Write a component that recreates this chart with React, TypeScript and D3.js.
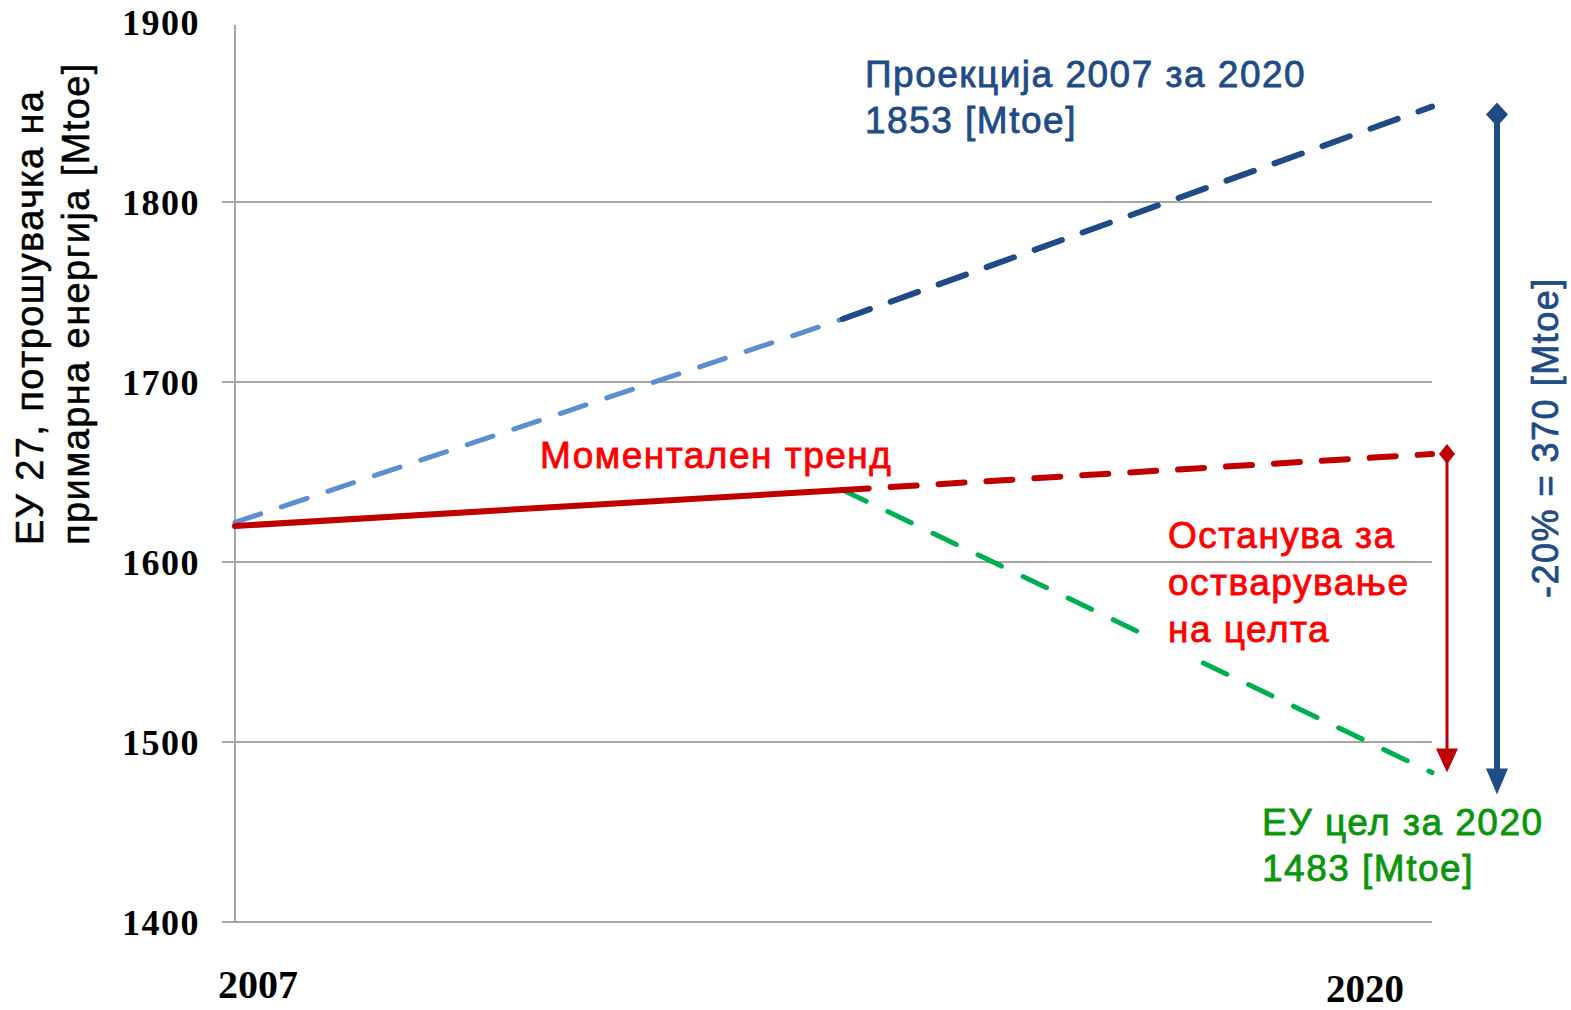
import React from 'react';
import * as d3 from 'd3';

// chart data
const yTicks = [1400, 1500, 1600, 1700, 1800, 1900];
const yearLabels = [2007, 2020];
const midYear = 2013.6;

const trendSolid: [number, number][] = [[2007, 1620], [midYear, 1640]];
const trendDashed: [number, number][] = [[midYear, 1640], [2020, 1660]];
const projectionLight: [number, number][] = [[2007, 1622], [midYear, 1735]];
const projectionDark: [number, number][] = [[midYear, 1735], [2020, 1853]];
const targetLine: [number, number][] = [[midYear, 1640], [2020, 1483]];

const projection2020 = 1853;
const target2020 = 1483;
const trend2020 = 1660;

const yTitle = ['ЕУ 27, потрошувачка на', 'примарна енергија [Mtoe]'];
const projLabel = ['Проекција 2007 за 2020', '1853 [Mtoe]'];
const trendLabel = 'Моментален тренд';
const remainLabel = ['Останува за', 'остварување', 'на целта'];
const targetLabel = ['ЕУ цел за 2020', '1483 [Mtoe]'];
const diffLabel = '-20% = 370 [Mtoe]';

const RED = '#c00000';
const RED_TEXT = '#ff0000';
const LIGHT_BLUE = '#5b8fd2';
const DARK_BLUE = '#1f4b86';
const GREEN = '#00b050';
const GREEN_TEXT = '#0a960a';
const GRID = '#a6a6a6';

const sans = '"Liberation Sans", Arial, sans-serif';
const serif = '"Liberation Serif", "Times New Roman", serif';

const App = () => {
  const width = 1571;
  const height = 1010;

  // Create scales
  const x = d3.scaleLinear().domain([2007, 2020]).range([235, 1432]);
  const y = d3.scaleLinear().domain([1400, 1900]).range([922, 22]);

  const line = d3
    .line<[number, number]>()
    .x((d) => x(d[0]))
    .y((d) => y(d[1]));

  const redX = x(2020) + 15;
  const blueX = x(2020) + 65;

  return (
    <svg
      width={width}
      height={height}
      style={{ position: 'absolute', left: 0, top: 0, background: '#fff' }}
    >
      {/* gridlines */}
      {yTicks
        .filter((t) => t < 1900)
        .map((t) => (
          <line key={t} x1={x(2007) - 13} x2={x(2020)} y1={y(t)} y2={y(t)} stroke={GRID} strokeWidth={2} />
        ))}
      <line x1={x(2007)} x2={x(2007)} y1={y(1900) + 3} y2={y(1400)} stroke={GRID} strokeWidth={2} />

      {/* y tick labels */}
      {yTicks.map((t) => (
        <text
          key={t}
          x={200}
          y={y(t)}
          dy="0.35em"
          textAnchor="end"
          fontFamily={serif}
          fontWeight="bold"
          fontSize={36}
          letterSpacing={1.5}
          fill="#000"
        >
          {t}
        </text>
      ))}

      {/* x labels */}
      <text x={x(yearLabels[0]) - 17} y={998} fontFamily={serif} fontWeight="bold" fontSize={40} fill="#000">
        {yearLabels[0]}
      </text>
      <text
        x={x(yearLabels[1]) - 28}
        y={1002}
        textAnchor="end"
        fontFamily={serif}
        fontWeight="bold"
        fontSize={39}
        fill="#000"
      >
        {yearLabels[1]}
      </text>

      {/* y axis title */}
      <g
        transform="translate(0,545) rotate(-90)"
        fontFamily={sans}
        fontSize={38}
        letterSpacing={1.4}
        fill="#000"
        stroke="#000"
        strokeWidth={0.5}
      >
        <text x={0} y={43}>{yTitle[0]}</text>
        <text x={0} y={89}>{yTitle[1]}</text>
      </g>

      {/* projection lines */}
      <path d={line(projectionLight) || ''} fill="none" stroke={LIGHT_BLUE} strokeWidth={5} strokeDasharray="27 22" strokeLinecap="round" />
      <path d={line(projectionDark) || ''} fill="none" stroke={DARK_BLUE} strokeWidth={6} strokeDasharray="29 22" strokeLinecap="round" />

      {/* target line */}
      <path d={line(targetLine) || ''} fill="none" stroke={GREEN} strokeWidth={5} strokeDasharray="26 24" strokeLinecap="round" />

      {/* current trend */}
      <path d={line(trendSolid) || ''} fill="none" stroke={RED} strokeWidth={6} strokeLinecap="round" />
      <path d={line(trendDashed) || ''} fill="none" stroke={RED} strokeWidth={6} strokeDasharray="26 22" strokeLinecap="round" />

      {/* white box behind "на целта" */}
      <rect x={1143} y={603} width={285} height={54} fill="#fff" />

      {/* red arrow */}
      <line x1={redX} x2={redX} y1={y(trend2020)} y2={y(target2020) - 20} stroke={RED} strokeWidth={3} />
      <path
        d={`M${redX},${y(trend2020) - 10} L${redX + 8},${y(trend2020)} L${redX},${y(trend2020) + 10} L${redX - 8},${y(trend2020)} Z`}
        fill={RED}
      />
      <path
        d={`M${redX - 11},${y(target2020) - 24} L${redX + 11},${y(target2020) - 24} L${redX},${y(target2020)} Z`}
        fill={RED}
      />

      {/* blue arrow */}
      <line x1={blueX} x2={blueX} y1={y(projection2020)} y2={y(target2020)} stroke={DARK_BLUE} strokeWidth={6} />
      <path
        d={`M${blueX},${y(projection2020) - 4} L${blueX + 11},${y(projection2020) + 8} L${blueX},${y(projection2020) + 20} L${blueX - 11},${y(projection2020) + 8} Z`}
        fill={DARK_BLUE}
      />
      <path
        d={`M${blueX - 11},${y(target2020) - 4} L${blueX + 11},${y(target2020) - 4} L${blueX},${y(target2020) + 22} Z`}
        fill={DARK_BLUE}
      />

      {/* labels */}
      <g fontFamily={sans} fontSize={37} letterSpacing={1.5} strokeWidth={0.8}>
        <text x={865} y={87} fill={DARK_BLUE} stroke={DARK_BLUE}>{projLabel[0]}</text>
        <text x={865} y={133} fill={DARK_BLUE} stroke={DARK_BLUE}>{projLabel[1]}</text>

        <text x={540} y={468} fill={RED_TEXT} stroke={RED_TEXT}>{trendLabel}</text>

        {remainLabel.map((t, i) => (
          <text key={t} x={1168} y={548 + i * 47} fill={RED_TEXT} stroke={RED_TEXT}>{t}</text>
        ))}

        <text x={1262} y={835} fill={GREEN_TEXT} stroke={GREEN_TEXT}>{targetLabel[0]}</text>
        <text x={1262} y={881} fill={GREEN_TEXT} stroke={GREEN_TEXT}>{targetLabel[1]}</text>

        <text transform="translate(1558,598) rotate(-90)" fill={DARK_BLUE} stroke={DARK_BLUE} fontSize={36}>
          {diffLabel}
        </text>
      </g>
    </svg>
  );
};

export default App;
